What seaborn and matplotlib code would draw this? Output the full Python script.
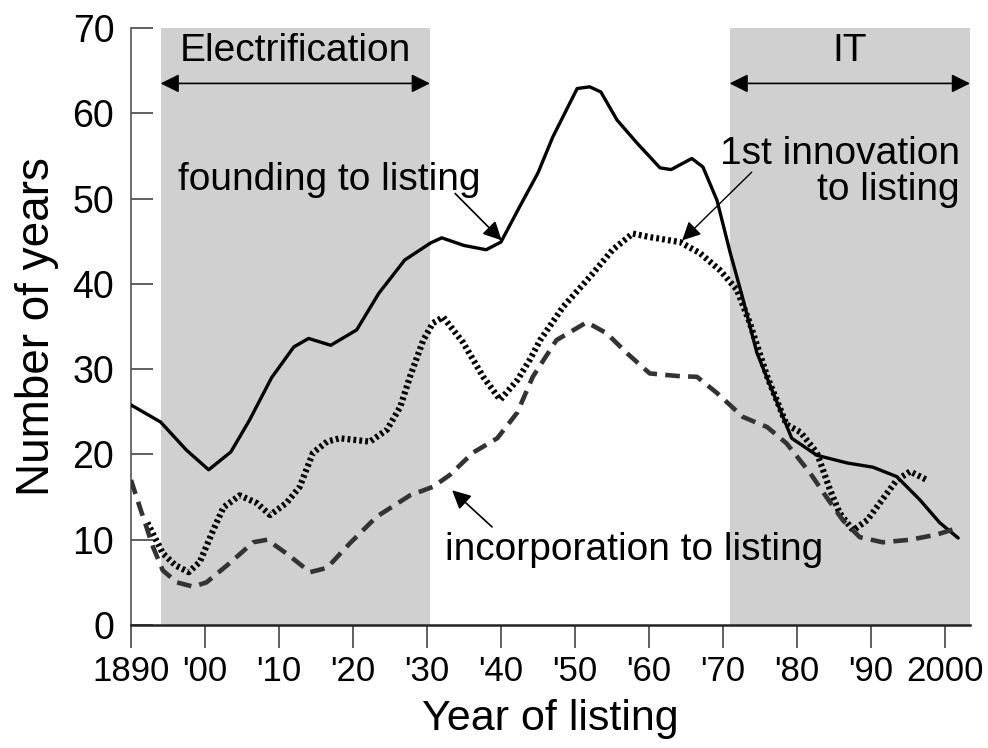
import numpy as np
import pandas as pd
import matplotlib
matplotlib.use("Agg")
import matplotlib.pyplot as plt
import seaborn as sns

sns.set_style("ticks")
plt.rcParams['font.family'] = ['Liberation Sans', 'DejaVu Sans']
plt.rcParams['text.color'] = 'black'
plt.rcParams['axes.labelcolor'] = 'black'
plt.rcParams['xtick.labelcolor'] = 'black'
plt.rcParams['ytick.labelcolor'] = 'black'

# founding to listing (solid)
found_years = [1890, 1894, 1897.5, 1900.5, 1903.5, 1906, 1909, 1912, 1914, 1917, 1920.5,
               1923.5, 1927, 1930.5, 1932, 1935, 1938, 1940, 1942.5, 1945, 1947, 1950.3,
               1952, 1953.5, 1955.7, 1958.4, 1961.5, 1963, 1965.8, 1967.3, 1969.2, 1971,
               1972.5, 1974.6, 1976.8, 1979.3, 1982.7, 1986.8, 1990.3, 1993.5, 1996.6,
               1999.3, 2001.8]
found_vals = [25.8, 23.8, 20.5, 18.2, 20.3, 24.0, 29.0, 32.6, 33.6, 32.8, 34.6,
              38.9, 42.8, 44.8, 45.4, 44.5, 44.0, 44.9, 49.0, 53.0, 57.2, 62.9,
              63.1, 62.5, 59.2, 56.5, 53.6, 53.4, 54.7, 53.7, 49.8, 43.6,
              38.9, 31.9, 27.2, 21.9, 19.9, 19.0, 18.5, 17.4, 14.7,
              12.0, 10.2]

# 1st innovation to listing (dotted)
innov_years = [1892.2, 1894.3, 1896, 1897.8, 1899.3, 1901.1, 1902.5, 1904.7, 1907, 1908.8,
               1911, 1912.8, 1914.6, 1916.5, 1918.2, 1922.3, 1924.6, 1926.4, 1927.7, 1929.5,
               1930.8, 1932.2, 1934.9, 1937.6, 1939.9, 1942.2, 1943.9, 1945.3, 1948.4, 1952,
               1955.1, 1957.8, 1960, 1964.2, 1966.9, 1969.6, 1971.9, 1973.6, 1976, 1978.6,
               1980.5, 1982.7, 1984.5, 1985.8, 1987.6, 1989.5, 1991.2, 1993.5, 1995.3, 1997.6]
innov_vals = [12.0, 8.4, 7.0, 6.2, 7.4, 11.1, 13.8, 15.2, 14.3, 12.9,
              14.3, 16.2, 20.2, 21.5, 21.9, 21.5, 22.9, 25.6, 29.1, 33.4,
              35.4, 36.1, 33.1, 29.1, 26.4, 28.7, 31.1, 33.4, 37.3, 40.8,
              44.0, 45.9, 45.5, 44.9, 43.6, 41.6, 39.3, 35.5, 29.1, 23.5,
              22.6, 20.2, 15.8, 13.1, 11.1, 12.3, 14.3, 17.0, 18.0, 17.0]

# incorporation to listing (dashed)
inc_years = [1890, 1891.2, 1893, 1894.3, 1896.2, 1898.4, 1900.2, 1903.4, 1906.5, 1908.4,
             1911, 1914.2, 1916.5, 1919.6, 1923.2, 1927.7, 1930.8, 1933.1, 1936.2, 1939.5,
             1942.2, 1944.3, 1947.5, 1951.6, 1954.3, 1957, 1960.1, 1963.8, 1966.5, 1969.2,
             1972.7, 1976, 1978.6, 1981.8, 1984, 1986.2, 1988.5, 1991.6, 1995.3, 1998.9, 2001.8]
inc_vals = [17.0, 13.8, 9.1, 6.4, 5.0, 4.5, 5.0, 7.3, 9.7, 10.0,
            8.4, 6.2, 6.7, 9.6, 12.7, 15.2, 16.2, 17.6, 20.2, 21.9,
            24.9, 29.1, 33.4, 35.5, 34.2, 31.9, 29.5, 29.2, 29.1, 27.2,
            24.4, 23.2, 21.3, 17.8, 15.0, 12.3, 10.3, 9.7, 10.0, 10.6, 11.4]

tick_years = [1890, 1900, 1910, 1920, 1930, 1940, 1950, 1960, 1970, 1980, 1990, 2000]
tick_labels = ["1890", "'00", "'10", "'20", "'30", "'40", "'50", "'60", "'70", "'80", "'90", "2000"]

eras = [("Electrification", 1894.0, 1930.4), ("IT", 1970.9, 2003.4)]

fig = plt.figure(figsize=(9.88, 7.48), dpi=100)
ax = fig.add_axes([0.1326, 0.1644, 0.8492, 0.7982])

# shaded periods with double arrows
for name, x0, x1 in eras:
    ax.axvspan(x0, x1, color="#d0d0d0", lw=0, zorder=0)
    ax.annotate("", xy=(x1, 63.5), xytext=(x0, 63.5),
                arrowprops=dict(arrowstyle="<|-|>", color="black", lw=1.2,
                                mutation_scale=28, shrinkA=0, shrinkB=0))
    ax.text((x0 + x1) / 2, 67.3, name, ha="center", va="center", fontsize=28)

sns.lineplot(x=found_years, y=found_vals, ax=ax, color="black", lw=2.4, zorder=3)
sns.lineplot(x=innov_years, y=innov_vals, ax=ax, color="black", lw=4.5,
             linestyle=(0, (0.45, 0.5)), zorder=3)
sns.lineplot(x=inc_years, y=inc_vals, ax=ax, color="#333333", lw=3.3, zorder=3)
ax.lines[-1].set_dashes((3.2, 1.8))
ax.lines[-1].set_dash_capstyle("butt")

# labels with arrows
ax.text(1916.8, 52.2, "founding to listing", ha="center", va="center", fontsize=28)
ax.annotate("", xy=(1940.1, 45.1), xytext=(1933.8, 50.6),
            arrowprops=dict(arrowstyle="-|>", color="black", lw=1.2, mutation_scale=28,
                            shrinkA=0, shrinkB=0))
ax.text(2002.0, 53.1, "1st innovation\nto listing", ha="right", va="center",
        fontsize=28, multialignment="right", linespacing=1.0)
ax.annotate("", xy=(1964.5, 45.1), xytext=(1973.9, 53.1),
            arrowprops=dict(arrowstyle="-|>", color="black", lw=1.0, mutation_scale=28,
                            shrinkA=0, shrinkB=0))
ax.text(1958.0, 8.8, "incorporation to listing", ha="center", va="center", fontsize=28)
ax.annotate("", xy=(1933.4, 15.8), xytext=(1938.8, 11.5),
            arrowprops=dict(arrowstyle="-|>", color="black", lw=1.2, mutation_scale=28,
                            shrinkA=0, shrinkB=0))

ax.set_xlim(1890, 2003.4)
ax.set_ylim(0, 70)
ax.set_xticks(tick_years)
ax.set_xticklabels(tick_labels)
ax.set_yticks(range(0, 71, 10))
ax.tick_params(axis="y", direction="in", length=16, width=1.2, color="#444444",
               labelsize=27, pad=12)
ax.tick_params(axis="x", direction="out", length=16.5, width=1.2, color="#444444",
               labelsize=25, pad=5)
for side in ["top", "right"]:
    ax.spines[side].set_visible(False)
ax.spines["left"].set_color("#555555")
ax.spines["left"].set_linewidth(1.2)
ax.spines["bottom"].set_color("#222222")
ax.spines["bottom"].set_linewidth(1.8)
ax.spines["bottom"].set_zorder(4)

ax.set_xlabel("Year of listing", fontsize=31, labelpad=8)
ax.set_ylabel("Number of years", fontsize=33, labelpad=10)

fig.savefig("out.png", dpi=100)
